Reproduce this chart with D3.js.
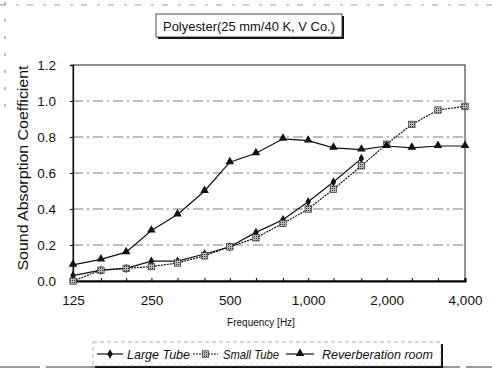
<!DOCTYPE html>
<html>
<head>
<meta charset="utf-8">
<script src="https://cdn.jsdelivr.net/npm/d3@7"></script>
<style>
  html, body { margin: 0; padding: 0; background: #fff; }
  svg { display: block; font-family: "Liberation Sans", Arial, sans-serif; }
</style>
</head>
<body>
<svg id="chart" width="492" height="370"></svg>
<script>
// One-third octave band centre frequencies (Hz)
const frequencies = [125, 160, 200, 250, 315, 400, 500, 630, 800, 1000, 1250, 1600, 2000, 2500, 3150, 4000];
// Sound absorption coefficients per method
const largeTube = [0.03, 0.06, 0.07, 0.11, 0.11, 0.15, 0.19, 0.27, 0.34, 0.44, 0.55, 0.68];
const smallTube = [0.00, 0.06, 0.07, 0.08, 0.10, 0.14, 0.19, 0.24, 0.32, 0.40, 0.51, 0.64, 0.76, 0.87, 0.95, 0.97];
const reverbRoom = [0.09, 0.12, 0.16, 0.28, 0.37, 0.50, 0.66, 0.71, 0.79, 0.78, 0.74, 0.73, 0.75, 0.74, 0.75, 0.75];
const xTickValues = [125, 250, 500, 1000, 2000, 4000];
const yTickValues = [0, 0.2, 0.4, 0.6, 0.8, 1.0, 1.2];
const titleText = "Polyester(25 mm/40 K, V Co.)";
const xLabel = "Frequency [Hz]";
const yLabel = "Sound Absorption Coefficient";
const seriesNames = ["Large Tube", "Small Tube", "Reverberation room"];

const svg = d3.select("#chart");
const plotLeft = 73, plotRight = 465, plotTop = 65, plotBottom = 281;

const x = d3.scaleLog().domain([125, 4000]).range([plotLeft, plotRight]);
const y = d3.scaleLinear().domain([0, 1.2]).range([plotBottom, plotTop]);

// hatched fill for the small tube squares
const defs = svg.append("defs");
const pat = defs.append("pattern").attr("id", "hatch").attr("patternUnits", "userSpaceOnUse")
  .attr("width", 2).attr("height", 2);
pat.append("rect").attr("width", 2).attr("height", 2).attr("fill", "#bbb");
pat.append("rect").attr("width", 1).attr("height", 1).attr("fill", "#333");

// faint frame lines along page edges
svg.append("line").attr("x1", 0).attr("x2", 492).attr("y1", 5).attr("y2", 5)
  .attr("stroke", "#999").attr("stroke-width", 1).attr("stroke-dasharray", "6 10 3 8");
svg.append("line").attr("x1", 0).attr("x2", 492).attr("y1", 367).attr("y2", 367)
  .attr("stroke", "#333").attr("stroke-width", 1.2).attr("stroke-dasharray", "40 6 90 4");
svg.append("line").attr("x1", 5).attr("x2", 5).attr("y1", 2).attr("y2", 110)
  .attr("stroke", "#777").attr("stroke-width", 1).attr("stroke-dasharray", "3 14");

// title box with drop shadow
const tb = { x: 156, y: 14, w: 186, h: 23 };
svg.append("rect").attr("x", tb.x + 2).attr("y", tb.y + 2).attr("width", tb.w).attr("height", tb.h).attr("fill", "#111");
svg.append("rect").attr("x", tb.x).attr("y", tb.y).attr("width", tb.w).attr("height", tb.h)
  .attr("fill", "#fff").attr("stroke", "#222").attr("stroke-width", 0.8);
svg.append("text").attr("x", tb.x + tb.w / 2).attr("y", tb.y + 16.5).attr("text-anchor", "middle")
  .attr("font-size", 13.5).attr("fill", "#111").attr("textLength", 172).attr("lengthAdjust", "spacingAndGlyphs")
  .text(titleText);

// horizontal grid (dash-dot)
svg.append("g").selectAll("line").data(yTickValues.filter(v => v > 0 && v < 1.2)).join("line")
  .attr("x1", plotLeft).attr("x2", plotRight).attr("y1", d => y(d)).attr("y2", d => y(d))
  .attr("stroke", "#555").attr("stroke-width", 0.8).attr("stroke-dasharray", "10 4 2 4");

// plot frame
svg.append("rect").attr("x", plotLeft).attr("y", plotTop).attr("width", plotRight - plotLeft).attr("height", plotBottom - plotTop)
  .attr("fill", "none").attr("stroke", "#222").attr("stroke-width", 1);

// axes
const yAxis = d3.axisLeft(y).tickValues(yTickValues).tickFormat(d3.format(".1f")).tickSize(3).tickPadding(14);
const gy = svg.append("g").attr("transform", `translate(${plotLeft},0)`).call(yAxis);
gy.select(".domain").attr("stroke", "#111").attr("stroke-width", 1.3);
gy.selectAll("text").attr("font-size", 13.5).attr("fill", "#111").attr("font-family", "Liberation Sans, Arial, sans-serif");

const xAxis = d3.axisBottom(x).tickValues(frequencies).tickFormat(d => xTickValues.includes(d) ? d3.format(",")(d) : "")
  .tickSize(-3).tickPadding(14);
const gx = svg.append("g").attr("transform", `translate(0,${plotBottom})`).call(xAxis);
gx.select(".domain").attr("stroke", "#000").attr("stroke-width", 2.2);
gx.selectAll("text").attr("font-size", 13.5).attr("fill", "#111").attr("font-family", "Liberation Sans, Arial, sans-serif");

// axis titles
svg.append("text").attr("x", (plotLeft + plotRight) / 2 - 8).attr("y", 326).attr("text-anchor", "middle")
  .attr("font-size", 10).attr("fill", "#111").text(xLabel);
svg.append("text").attr("transform", `translate(28,168) rotate(-90)`)
  .attr("text-anchor", "middle").attr("font-size", 14).attr("fill", "#111")
  .attr("textLength", 205).attr("lengthAdjust", "spacingAndGlyphs").text(yLabel);

// series
const line = d3.line().x(d => x(d[0])).y(d => y(d[1]));
const series = [
  { name: seriesNames[0], vals: largeTube, dash: null, marker: "diamond" },
  { name: seriesNames[1], vals: smallTube, dash: "2 1", marker: "square" },
  { name: seriesNames[2], vals: reverbRoom, dash: null, marker: "triangle" }
];

function drawMarker(g, type, cx, cy) {
  if (type === "diamond") {
    g.append("path").attr("d", d3.symbol(d3.symbolDiamond, 26)()).attr("transform", `translate(${cx},${cy})`).attr("fill", "#111");
  } else if (type === "square") {
    g.append("rect").attr("x", cx - 3.2).attr("y", cy - 3.2).attr("width", 6.4).attr("height", 6.4)
      .attr("fill", "url(#hatch)").attr("stroke", "#333").attr("stroke-width", 0.7);
  } else {
    g.append("path").attr("d", d3.symbol(d3.symbolTriangle, 32)()).attr("transform", `translate(${cx},${cy - 0.5})`).attr("fill", "#111");
  }
}

series.forEach(s => {
  const pts = s.vals.map((v, i) => [frequencies[i], v]);
  svg.append("path").datum(pts).attr("d", line).attr("fill", "none")
    .attr("stroke", "#111").attr("stroke-width", 1.2).attr("stroke-dasharray", s.dash);
  const g = svg.append("g");
  pts.forEach(p => drawMarker(g, s.marker, x(p[0]), y(p[1])));
});

// legend box with drop shadow
const lb = { x: 93, y: 342, w: 348, h: 24 };
svg.append("rect").attr("x", lb.x + 2).attr("y", lb.y + 2).attr("width", lb.w).attr("height", lb.h).attr("fill", "#111");
svg.append("rect").attr("x", lb.x).attr("y", lb.y).attr("width", lb.w).attr("height", lb.h)
  .attr("fill", "#fff").attr("stroke", "#777").attr("stroke-width", 0.6).attr("stroke-dasharray", "4 3");
const legendLine = [[97, 123], [193, 218], [286, 314]];
const legendText = [127, 223, 322];
const legendTextLen = [63, 56, 111];
series.forEach((s, i) => {
  const g = svg.append("g");
  const [lx1, lx2] = legendLine[i], ly = lb.y + 12;
  g.append("line").attr("x1", lx1).attr("x2", lx2).attr("y1", ly).attr("y2", ly)
    .attr("stroke", "#111").attr("stroke-width", 1.2).attr("stroke-dasharray", s.dash);
  drawMarker(g, s.marker, (lx1 + lx2) / 2, ly);
  g.append("text").attr("x", legendText[i]).attr("y", ly + 4.5).attr("font-size", 13).attr("font-style", "italic")
    .attr("textLength", legendTextLen[i]).attr("lengthAdjust", "spacingAndGlyphs")
    .attr("fill", "#111").text(s.name);
});
</script>
</body>
</html>
